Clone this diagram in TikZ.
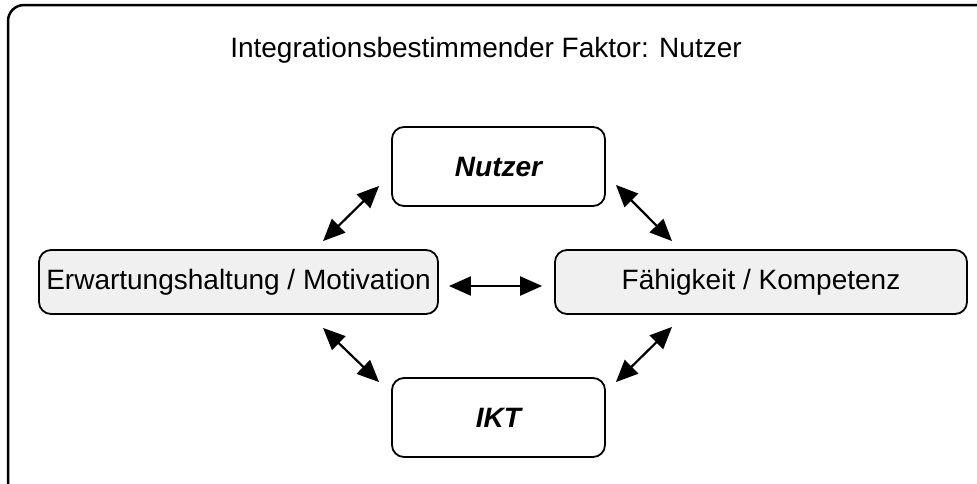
\documentclass[tikz,border=0pt]{standalone}
\usepackage{fontspec}
\setmainfont{Liberation Sans}
\usetikzlibrary{arrows.meta,calc}
\definecolor{boxgray}{RGB}{240,240,240}
\begin{document}
\begin{tikzpicture}[x=1pt,y=1pt,
  txt/.style={font=\fontsize{28}{33}\selectfont},
  roundbox/.style={draw=black, line width=1.8pt, rounded corners=12pt, inner sep=0pt, txt},
  whitebox/.style={roundbox, fill=white, font=\fontsize{28}{33}\selectfont\bfseries\itshape},
  graybox/.style={roundbox, fill=boxgray},
  dbl/.style={{Triangle[length=22pt,width=19pt]}-{Triangle[length=22pt,width=19pt]}, line width=2.2pt}]
  \useasboundingbox (0,0) rectangle (977,-483);
  \clip (0,0) rectangle (977,-483);
  % outer frame, running off the lower right
  \draw[line width=2.5pt, rounded corners=16pt] (8,-520) -- (8,-5) -- (1010,-5);
  % heading
  \node[txt] (title) at (486,-50) {Integrationsbestimmender Faktor: Nutzer};
  % boxes
  \node[whitebox, minimum width=213pt, minimum height=79pt] (nutzer) at (498.5,-166.5) {Nutzer};
  \node[whitebox, minimum width=213pt, minimum height=79pt] (ikt) at (498.5,-417.5) {IKT};
  \node[graybox, minimum width=399pt, minimum height=64pt] (erw) at (238.5,-282) {Erwartungshaltung / Motivation};
  \node[graybox, minimum width=412pt, minimum height=64pt] (fah) at (761,-282) {Fähigkeit / Kompetenz};
  % connectors
  \draw[dbl] ($(erw.north)+(84.5,8)$) -- ($(nutzer.south west)+(-12,21)$);
  \draw[dbl] ($(nutzer.south east)+(10,22)$) -- ($(fah.north)+(-89,8)$);
  \draw[dbl] ($(erw.east)+(10,-4)$) -- ($(fah.west)+(-12,-4)$);
  \draw[dbl] ($(erw.south)+(84.5,-13)$) -- ($(ikt.north west)+(-12,-5)$);
  \draw[dbl] ($(fah.south)+(-89,-12)$) -- ($(ikt.north east)+(10,-5)$);
\end{tikzpicture}
\end{document}
